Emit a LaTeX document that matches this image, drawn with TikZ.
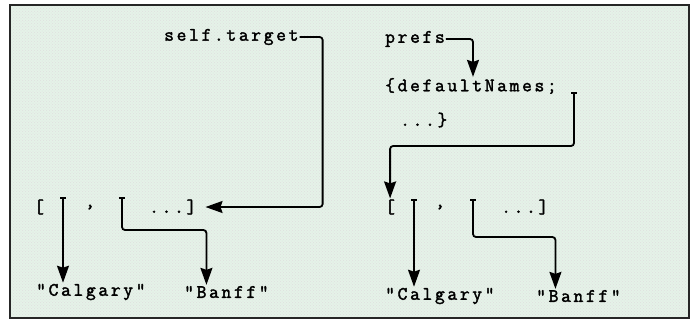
\documentclass[tikz,border=0pt]{standalone}
\usepackage{fontspec}
\usetikzlibrary{arrows.meta,patterns}
\newfontfamily\codefont{Latin Modern Mono}[LetterSpace=14, FakeBold=2]
\definecolor{mint}{RGB}{229,242,232}
\tikzset{
  code/.style = {font=\codefont\fontsize{19}{19}\selectfont, inner sep=1pt, anchor=west},
  link/.style = {line width=1.8pt, rounded corners=3pt, {Bar[width=6pt]}-{Stealth[length=17pt,width=12pt,inset=2pt]}},
  feed/.style = {line width=1.8pt, rounded corners=3pt, -{Stealth[length=17pt,width=12pt,inset=2pt]}}
}
\begin{document}
\begin{tikzpicture}[x=1pt, y=-1pt]
\useasboundingbox (0,0) rectangle (692,322);
\fill[white] (0,0) rectangle (692,322);
\fill[mint] (10,5) rectangle (689,318);
\fill[pattern=crosshatch dots, pattern color=gray!25] (10,5) rectangle (689,318);
\draw[line width=2pt, color=black!85] (10,5) rectangle (689,318); % frame

% left: self.target -> list
\node[code] (target) at (163,37) {self.target};
\node[code] (lbrA) at (33,207) {[};
\node[code] (commaA) at (84,207) {,};
\node[code] (dotsA) at (148,207) {...]};
\coordinate (ptrA1) at (63,197);
\coordinate (ptrA2) at (122,197);
\node[code] (calgA) at (35,292) {"Calgary"};
\node[code] (banffA) at (183,292) {"Banff"};
\draw[feed] (target.east) -- ++(23,0) |- ([xshift=8pt]dotsA.east);
\draw[link] (ptrA1) -- (ptrA1 |- calgA.north);
\draw[link] (ptrA2) -- ++(0,33) -| ([xshift=-20pt]banffA.north);

% right: prefs -> dict -> list
\node[code] (prefs) at (384,39) {prefs};
\node[code] (dict1) at (384,86) {\{defaultNames;};
\node[code] (dict2) at (399,120) {...\}};
\coordinate (ptrB0) at (574,92);
\node[code] (lbrB) at (384,207) {[};
\node[code] (commaB) at (434,207) {,};
\node[code] (dotsB) at (500,207) {...]};
\coordinate (ptrB1) at (414,199);
\coordinate (ptrB2) at (473,199);
\node[code] (calgB) at (384,296) {"Calgary"};
\node[code] (banffB) at (535,296) {"Banff"};
\draw[feed] (prefs.east) -| ([xshift=89pt]dict1.north west);
\draw[link] (ptrB0) -- ++(0,54) -| (lbrB.north);
\draw[link] (ptrB1) -- (ptrB1 |- calgB.north);
\draw[link] (ptrB2) -- ++(0,38) -| ([xshift=-23pt]banffB.north);
\end{tikzpicture}
\end{document}
